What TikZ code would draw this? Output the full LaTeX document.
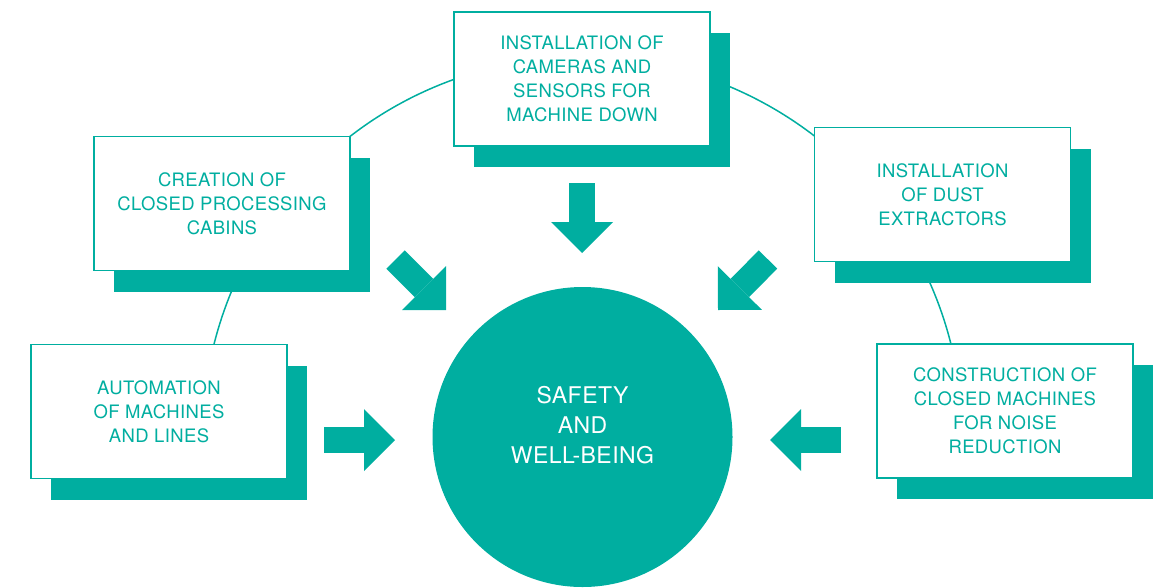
\documentclass[tikz,border=0pt]{standalone}
\usepackage{fontspec}
\setmainfont{TeX Gyre Heros}[LetterSpace=2]
\usepackage{tikz}
\usetikzlibrary{arrows.meta, shadows}
\usepackage{xcolor}
\definecolor{safetyTeal}{HTML}{00AEA0}

\tikzset{
  actionbox/.style={draw=safetyTeal, line width=1.5pt, fill=white, text=safetyTeal,
    minimum width=256pt, minimum height=134pt, align=center,
    font=\fontsize{18.5}{24}\selectfont,
    drop shadow={shadow xshift=20pt, shadow yshift=-21pt, fill=safetyTeal, opacity=1}},
  hubcircle/.style={circle, fill=safetyTeal, text=white, minimum size=300pt,
    align=center, font=\fontsize{23}{30}\selectfont},
  ring/.style={draw=safetyTeal, line width=1.5pt},
  bigarrow/.style={safetyTeal, line width=26pt,
    -{Triangle[width=62pt, length=31pt, line width=0pt]}}
}

\begin{document}
\begin{tikzpicture}[x=1pt, y=-1pt]
  \useasboundingbox (0,0) rectangle (1161,587);
  % Hub
  \coordinate (hubC) at (582.5,437);
  % Outer ring behind the boxes
  \draw[ring] (hubC) ++(-13:380) arc (-13:-167:380);
  % Action boxes
  \node[actionbox] (cameras) at (582,79)
        {INSTALLATION OF\\CAMERAS AND\\SENSORS FOR\\MACHINE DOWN};
  \node[actionbox] (cabins) at (222,203.5)
        {CREATION OF\\CLOSED PROCESSING\\CABINS};
  \node[actionbox] (dust) at (942.5,194.5)
        {INSTALLATION\\OF DUST\\EXTRACTORS};
  \node[actionbox] (automation) at (159,411.5)
        {AUTOMATION\\OF MACHINES\\AND LINES};
  \node[actionbox] (noise) at (1005,411)
        {CONSTRUCTION OF\\CLOSED MACHINES\\FOR NOISE\\REDUCTION};
  % Central circle
  \node[hubcircle] (hub) at (hubC) {};
  \node[text=white, align=center, font=\fontsize{23}{30}\selectfont] (hubText)
        at (582.5,425) {SAFETY\\AND\\WELL-BEING};
  % Arrow ends
  \coordinate (camerasFrom) at (582,183);
  \coordinate (camerasTo) at (582,253);
  \coordinate (cabinsFrom) at (395.5,259.5);
  \coordinate (cabinsTo) at (446,310);
  \coordinate (dustFrom) at (768,259.5);
  \coordinate (dustTo) at (718,310);
  \coordinate (automationFrom) at (324,440);
  \coordinate (automationTo) at (395,440);
  \coordinate (noiseFrom) at (841,440);
  \coordinate (noiseTo) at (770,440);
  % Arrows towards the hub
  \draw[bigarrow] (camerasFrom) -- (camerasTo);
  \draw[bigarrow] (cabinsFrom) -- (cabinsTo);
  \draw[bigarrow] (dustFrom) -- (dustTo);
  \draw[bigarrow] (automationFrom) -- (automationTo);
  \draw[bigarrow] (noiseFrom) -- (noiseTo);
\end{tikzpicture}
\end{document}
